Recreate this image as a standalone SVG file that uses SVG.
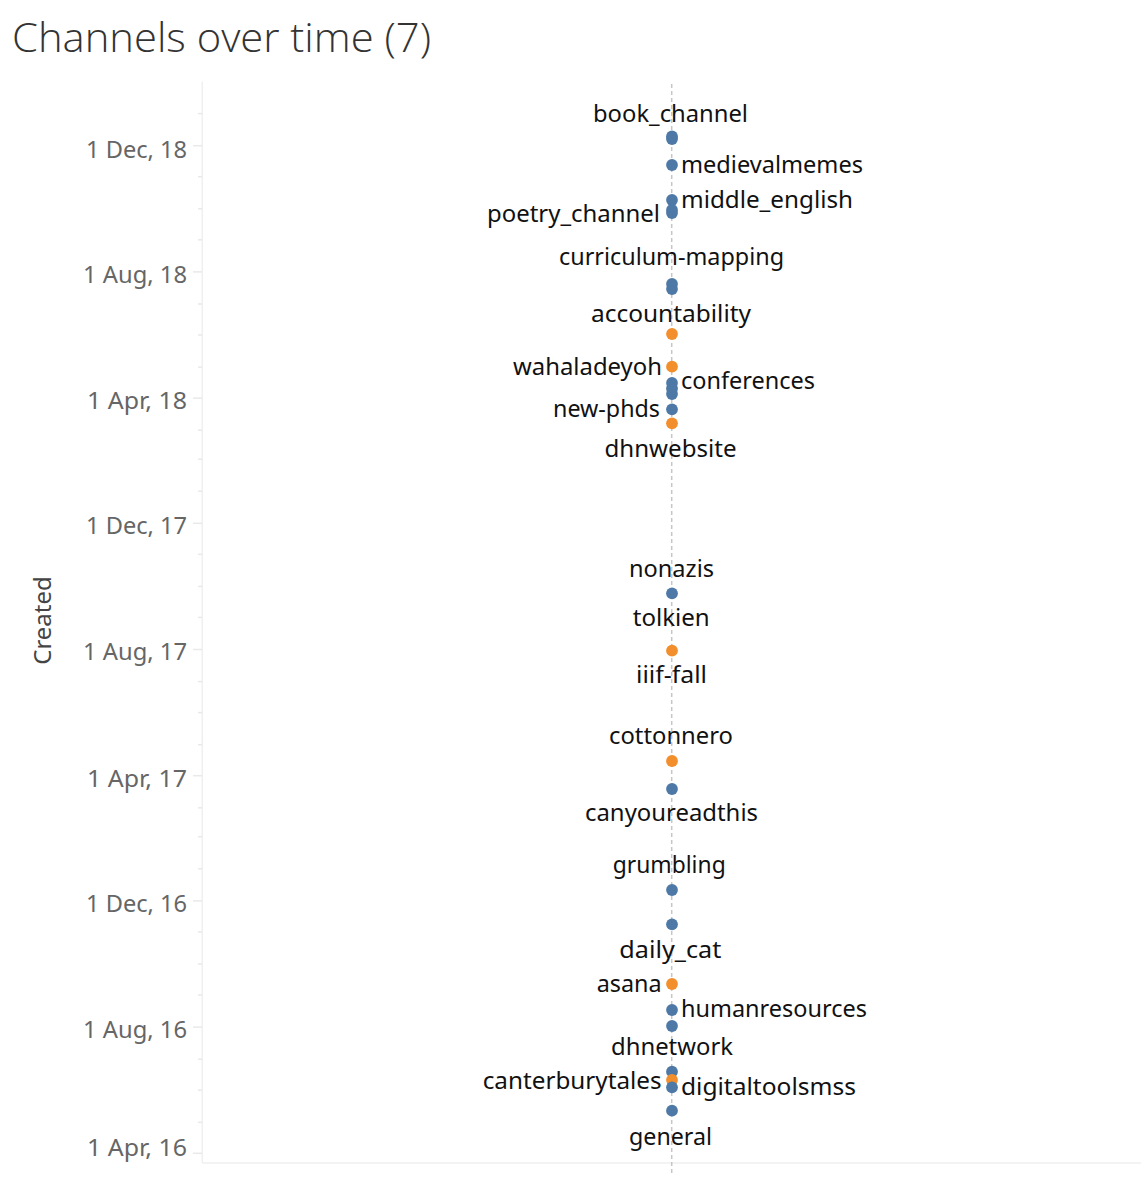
<svg xmlns="http://www.w3.org/2000/svg" width="1148" height="1178" viewBox="0 0 1148 1178">
<style>
  .title { font-family: "Open Sans", "Noto Sans", "Liberation Sans", sans-serif; font-weight: 300; font-size: 40px; fill: #333333; }
  .axl { font-family: "Noto Sans", "Liberation Sans", sans-serif; font-size: 24px; fill: #666666; text-anchor: end; }
  .axt { font-family: "Noto Sans", "Liberation Sans", sans-serif; font-size: 24px; fill: #444444; text-anchor: middle; }
  .lbl { font-family: "Noto Sans", "Liberation Sans", sans-serif; font-size: 24px; fill: #111111; }
  .grid { stroke: #efefef; stroke-width: 1.5; fill: none; }
  .tk { stroke: #e9e9e9; stroke-width: 1.5; }
  .ref { stroke: #c6c6c6; stroke-width: 1.5; stroke-dasharray: 4 3; fill: none; }
  .b { fill: #4e79a7; }
  .o { fill: #f28e2b; }
</style>
<rect width="1148" height="1178" fill="#ffffff"/>
<text class="title" x="12" y="52" textLength="419" lengthAdjust="spacingAndGlyphs">Channels over time (7)</text>

<g id="axis">
  <line class="grid" x1="202.3" y1="81.5" x2="202.3" y2="1163"/>
  <line class="grid" x1="202.3" y1="1163" x2="1141" y2="1163"/>
  <g class="tk">
    <line x1="198" y1="113.6" x2="202" y2="113.6"/>
    <line x1="193" y1="145.7" x2="202" y2="145.7"/>
    <line x1="198" y1="176.7" x2="202" y2="176.7"/>
    <line x1="198" y1="208.8" x2="202" y2="208.8"/>
    <line x1="198" y1="239.8" x2="202" y2="239.8"/>
    <line x1="193" y1="271.9" x2="202" y2="271.9"/>
    <line x1="198" y1="304" x2="202" y2="304"/>
    <line x1="198" y1="335" x2="202" y2="335"/>
    <line x1="198" y1="367.1" x2="202" y2="367.1"/>
    <line x1="193" y1="398.1" x2="202" y2="398.1"/>
    <line x1="198" y1="430.2" x2="202" y2="430.2"/>
    <line x1="198" y1="459.2" x2="202" y2="459.2"/>
    <line x1="198" y1="491.2" x2="202" y2="491.2"/>
    <line x1="193" y1="523.3" x2="202" y2="523.3"/>
    <line x1="198" y1="554.3" x2="202" y2="554.3"/>
    <line x1="198" y1="586.4" x2="202" y2="586.4"/>
    <line x1="198" y1="617.4" x2="202" y2="617.4"/>
    <line x1="193" y1="649.5" x2="202" y2="649.5"/>
    <line x1="198" y1="681.6" x2="202" y2="681.6"/>
    <line x1="198" y1="712.6" x2="202" y2="712.6"/>
    <line x1="198" y1="744.7" x2="202" y2="744.7"/>
    <line x1="193" y1="775.7" x2="202" y2="775.7"/>
    <line x1="198" y1="807.8" x2="202" y2="807.8"/>
    <line x1="198" y1="836.7" x2="202" y2="836.7"/>
    <line x1="198" y1="868.8" x2="202" y2="868.8"/>
    <line x1="193" y1="900.9" x2="202" y2="900.9"/>
    <line x1="198" y1="931.9" x2="202" y2="931.9"/>
    <line x1="198" y1="964" x2="202" y2="964"/>
    <line x1="198" y1="995" x2="202" y2="995"/>
    <line x1="193" y1="1027.1" x2="202" y2="1027.1"/>
    <line x1="198" y1="1059.2" x2="202" y2="1059.2"/>
    <line x1="198" y1="1090.2" x2="202" y2="1090.2"/>
    <line x1="198" y1="1122.3" x2="202" y2="1122.3"/>
    <line x1="193" y1="1153.3" x2="202" y2="1153.3"/>
  </g>
  <text class="axl" x="187" y="157.7" textLength="101" lengthAdjust="spacingAndGlyphs">1 Dec, 18</text>
  <text class="axl" x="187" y="283" textLength="104" lengthAdjust="spacingAndGlyphs">1 Aug, 18</text>
  <text class="axl" x="187" y="409" textLength="100" lengthAdjust="spacingAndGlyphs">1 Apr, 18</text>
  <text class="axl" x="187" y="534" textLength="101" lengthAdjust="spacingAndGlyphs">1 Dec, 17</text>
  <text class="axl" x="187" y="660" textLength="104" lengthAdjust="spacingAndGlyphs">1 Aug, 17</text>
  <text class="axl" x="187" y="787" textLength="100" lengthAdjust="spacingAndGlyphs">1 Apr, 17</text>
  <text class="axl" x="187" y="912" textLength="101" lengthAdjust="spacingAndGlyphs">1 Dec, 16</text>
  <text class="axl" x="187" y="1038" textLength="104" lengthAdjust="spacingAndGlyphs">1 Aug, 16</text>
  <text class="axl" x="187" y="1156" textLength="100" lengthAdjust="spacingAndGlyphs">1 Apr, 16</text>
  <text class="axt" transform="translate(50.5,620.5) rotate(-90)">Created</text>
</g>

<g id="connectors">
  <line class="ref" x1="671.7" y1="84" x2="671.7" y2="1175"/>
</g>

<g id="nodes">
  <g id="node-book_channel">
    <circle class="b" cx="672" cy="136.5" r="5.9"/>
    <circle class="b" cx="672" cy="139" r="5.9"/>
    <text class="lbl" x="593" y="122" textLength="155" lengthAdjust="spacingAndGlyphs">book_channel</text>
  </g>
  <g id="node-medievalmemes">
    <circle class="b" cx="672" cy="165" r="5.9"/>
    <text class="lbl" x="681" y="173" textLength="182" lengthAdjust="spacingAndGlyphs">medievalmemes</text>
  </g>
  <g id="node-middle_english">
    <circle class="b" cx="672" cy="200" r="5.9"/>
    <text class="lbl" x="681" y="208" textLength="172" lengthAdjust="spacingAndGlyphs">middle_english</text>
  </g>
  <g id="node-poetry_channel">
    <circle class="b" cx="672" cy="210" r="5.9"/>
    <circle class="b" cx="672" cy="213" r="5.9"/>
    <text class="lbl" x="487" y="221.5" textLength="173" lengthAdjust="spacingAndGlyphs">poetry_channel</text>
  </g>
  <g id="node-curriculum-mapping">
    <circle class="b" cx="672" cy="284" r="5.9"/>
    <circle class="b" cx="672" cy="289" r="5.9"/>
    <text class="lbl" x="559" y="265" textLength="225" lengthAdjust="spacingAndGlyphs">curriculum-mapping</text>
  </g>
  <g id="node-accountability">
    <circle class="o" cx="672" cy="334" r="5.9"/>
    <text class="lbl" x="591" y="322" textLength="160" lengthAdjust="spacingAndGlyphs">accountability</text>
  </g>
  <g id="node-wahaladeyoh">
    <circle class="o" cx="672" cy="366.7" r="5.9"/>
    <text class="lbl" x="513" y="375" textLength="149" lengthAdjust="spacingAndGlyphs">wahaladeyoh</text>
  </g>
  <g id="node-conferences">
    <circle class="b" cx="672" cy="383" r="5.9"/>
    <circle class="b" cx="672" cy="388.5" r="5.9"/>
    <circle class="b" cx="672" cy="394" r="5.9"/>
    <text class="lbl" x="681" y="389.3" textLength="134" lengthAdjust="spacingAndGlyphs">conferences</text>
  </g>
  <g id="node-new-phds">
    <circle class="b" cx="672" cy="409.3" r="5.9"/>
    <text class="lbl" x="553" y="417.3" textLength="107" lengthAdjust="spacingAndGlyphs">new-phds</text>
  </g>
  <g id="node-dhnwebsite">
    <circle class="o" cx="672" cy="423.3" r="5.9"/>
    <text class="lbl" x="604.5" y="456.7" textLength="132" lengthAdjust="spacingAndGlyphs">dhnwebsite</text>
  </g>
  <g id="node-nonazis">
    <circle class="b" cx="672" cy="593.3" r="5.9"/>
    <text class="lbl" x="629" y="577.3" textLength="85" lengthAdjust="spacingAndGlyphs">nonazis</text>
  </g>
  <g id="node-tolkien">
    <text class="lbl" x="632.7" y="625.7" textLength="77" lengthAdjust="spacingAndGlyphs">tolkien</text>
  </g>
  <g id="node-iiif-fall">
    <circle class="o" cx="672" cy="650.7" r="5.9"/>
    <text class="lbl" x="636" y="682.7" textLength="71" lengthAdjust="spacingAndGlyphs">iiif-fall</text>
  </g>
  <g id="node-cottonnero">
    <circle class="o" cx="672" cy="761" r="5.9"/>
    <text class="lbl" x="609" y="744" textLength="124" lengthAdjust="spacingAndGlyphs">cottonnero</text>
  </g>
  <g id="node-canyoureadthis">
    <circle class="b" cx="672" cy="789" r="5.9"/>
    <text class="lbl" x="585" y="821" textLength="173" lengthAdjust="spacingAndGlyphs">canyoureadthis</text>
  </g>
  <g id="node-grumbling">
    <circle class="b" cx="672" cy="890" r="5.9"/>
    <text class="lbl" x="612.7" y="872.5" textLength="113" lengthAdjust="spacingAndGlyphs">grumbling</text>
  </g>
  <g id="node-daily_cat">
    <circle class="b" cx="672" cy="924.3" r="5.9"/>
    <text class="lbl" x="619.3" y="958.3" textLength="102" lengthAdjust="spacingAndGlyphs">daily_cat</text>
  </g>
  <g id="node-asana">
    <circle class="o" cx="672" cy="984" r="5.9"/>
    <text class="lbl" x="596.7" y="991.7" textLength="65" lengthAdjust="spacingAndGlyphs">asana</text>
  </g>
  <g id="node-humanresources">
    <circle class="b" cx="672" cy="1010" r="5.9"/>
    <text class="lbl" x="681" y="1017.3" textLength="186" lengthAdjust="spacingAndGlyphs">humanresources</text>
  </g>
  <g id="node-dhnetwork">
    <circle class="b" cx="672" cy="1026" r="5.9"/>
    <text class="lbl" x="611" y="1055" textLength="122" lengthAdjust="spacingAndGlyphs">dhnetwork</text>
  </g>
  <g id="node-canterburytales">
    <circle class="b" cx="672" cy="1071.7" r="5.9"/>
    <circle class="o" cx="672" cy="1080" r="5.9"/>
    <text class="lbl" x="482.7" y="1089.3" textLength="179" lengthAdjust="spacingAndGlyphs">canterburytales</text>
  </g>
  <g id="node-digitaltoolsmss">
    <circle class="b" cx="672" cy="1087.3" r="5.9"/>
    <text class="lbl" x="681" y="1095" textLength="175" lengthAdjust="spacingAndGlyphs">digitaltoolsmss</text>
  </g>
  <g id="node-general">
    <circle class="b" cx="672" cy="1110.7" r="5.9"/>
    <text class="lbl" x="629" y="1145" textLength="83" lengthAdjust="spacingAndGlyphs">general</text>
  </g>
</g>
</svg>
